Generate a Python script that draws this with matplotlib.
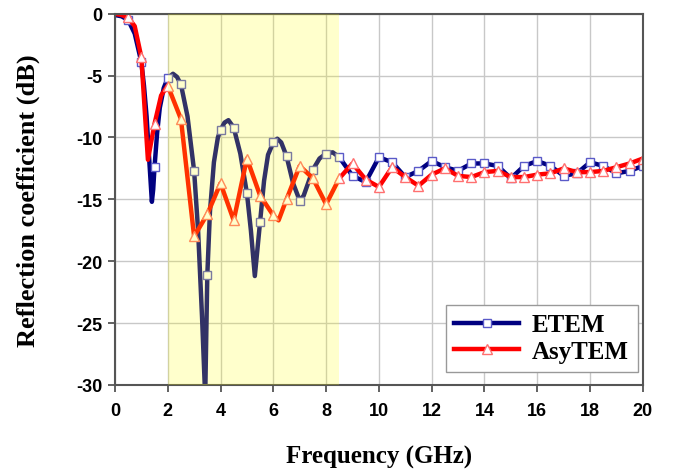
#!/usr/bin/env python3
import numpy as np
import matplotlib.pyplot as plt

plt.rcParams["axes.unicode_minus"] = False

# ───────────────────────── Data (frequency in GHz, S11 in dB) ─────────────────

ETEM_FREQ = [0.0, 0.25, 0.5, 0.75, 1.0, 1.1, 1.2, 1.3, 1.4, 1.45, 1.5, 1.6,
             1.7, 1.85, 2.0, 2.2, 2.35, 2.5, 2.75, 3.0, 3.15, 3.3, 3.42, 3.5,
             3.6, 3.75, 3.9, 4.0, 4.15, 4.3, 4.5, 4.75, 5.0, 5.15, 5.3, 5.4,
             5.5, 5.65, 5.8, 6.0, 6.15, 6.3, 6.5, 6.75, 7.0, 7.15, 7.3, 7.5,
             7.75, 8.0, 8.25, 8.5, 9.0, 9.5, 10.0, 10.5, 11.0, 11.5, 12.0,
             12.5, 13.0, 13.5, 14.0, 14.5, 15.0, 15.5, 16.0, 16.5, 17.0, 17.5,
             18.0, 18.5, 19.0, 19.5, 20.0]
ETEM_S11 = [-0.1, -0.2, -0.5, -1.6, -3.9, -5.8, -8.3, -11.8, -15.2, -14.2,
            -12.4, -9.6, -7.6, -6.0, -5.2, -4.85, -5.1, -5.7, -8.3, -12.7,
            -17.5, -24.5, -31.0, -21.1, -16.0, -12.0, -10.0, -9.4, -8.8, -8.6,
            -9.2, -11.3, -14.5, -17.5, -21.2, -19.0, -16.8, -13.5, -11.4,
            -10.4, -10.1, -10.4, -11.5, -13.7, -15.1, -14.7, -13.8, -12.6,
            -11.7, -11.3, -11.2, -11.6, -13.1, -13.6, -11.6, -12.0, -13.2,
            -12.7, -11.9, -12.4, -12.7, -12.1, -12.1, -12.3, -13.3, -12.3,
            -11.9, -12.3, -13.1, -12.9, -12.0, -12.3, -12.9, -12.7, -12.3]

ASY_FREQ = [0.0, 0.25, 0.5, 0.75, 1.0, 1.25, 1.5, 1.75, 2.0, 2.5, 3.0, 3.5,
            4.0, 4.5, 5.0, 5.5, 6.0, 6.2, 6.5, 7.0, 7.5, 8.0, 8.5, 9.0, 9.5,
            10.0, 10.5, 11.0, 11.5, 12.0, 12.5, 13.0, 13.5, 14.0, 14.5, 15.0,
            15.5, 16.0, 16.5, 17.0, 17.5, 18.0, 18.5, 19.0, 19.5, 20.0]
ASY_S11 = [0.0, -0.1, -0.3, -1.0, -3.5, -11.8, -8.9, -6.6, -5.8, -8.5, -18.0,
           -16.2, -13.7, -16.7, -11.7, -14.7, -16.3, -16.7, -15.0, -12.3,
           -13.3, -15.4, -13.3, -12.1, -13.4, -14.0, -12.4, -13.2, -13.9,
           -13.0, -12.5, -13.1, -13.2, -12.8, -12.7, -13.2, -13.2, -13.0,
           -12.9, -12.5, -12.8, -12.8, -12.7, -12.4, -12.1, -11.7]

BAND = (2.0, 8.5)


def marker_idx(freq):
    # markers sit on the 0.5 GHz grid only
    return [i for i, f in enumerate(freq) if abs(f * 2 - round(f * 2)) < 1e-9 and f > 0]


fig = plt.figure(figsize=(6.76, 4.77), dpi=100)
ax = fig.add_axes([0.170, 0.191, 0.781, 0.778])

ax.plot(ETEM_FREQ, ETEM_S11, color="#000080", lw=3.2, marker="s", ms=6,
        mfc="white", mec="#5a5ac8", mew=1.0, markevery=marker_idx(ETEM_FREQ),
        label="ETEM", zorder=2)
ax.plot(ASY_FREQ, ASY_S11, color="#ff0000", lw=3.2, marker="^", ms=7,
        mfc="white", mec="#ff7070", mew=1.0, markevery=marker_idx(ASY_FREQ),
        label="AsyTEM", zorder=2)

# translucent band drawn over the curves
ax.axvspan(*BAND, color="#ffff00", alpha=0.2, lw=0, zorder=3)

ax.set_xlim(0, 20)
ax.set_ylim(-30, 0)
ax.set_xticks(np.arange(0, 21, 2))
ax.set_yticks(np.arange(-30, 1, 5))
ax.grid(True, color="#c8c8c8", lw=1.0)
ax.set_axisbelow(True)

for s in ax.spines.values():
    s.set_color("#555555")
    s.set_linewidth(1.5)
ax.tick_params(direction="out", length=5, width=1.3, color="#555555",
               labelsize=13)
ax.tick_params(axis="x", pad=7)
ax.tick_params(axis="y", pad=4)
for lab in ax.get_xticklabels() + ax.get_yticklabels():
    lab.set_fontfamily("Liberation Sans")
    lab.set_fontweight("bold")

ax.set_xlabel("Frequency (GHz)", fontsize=18, fontweight="bold",
              family="Liberation Serif", labelpad=19)
ax.set_ylabel("Reflection coefficient (dB)", fontsize=19, fontweight="bold",
              family="Liberation Serif", labelpad=26)

leg = ax.legend(loc="lower right", bbox_to_anchor=(0.99, 0.035),
                borderaxespad=0, handlelength=2.6, fancybox=False,
                prop={"family": "Liberation Serif", "weight": "bold", "size": 18},
                edgecolor="#999999", framealpha=1, labelspacing=0.15,
                handletextpad=0.5, borderpad=0.35)
leg.set_zorder(5)

fig.savefig("out.png", dpi=100)
